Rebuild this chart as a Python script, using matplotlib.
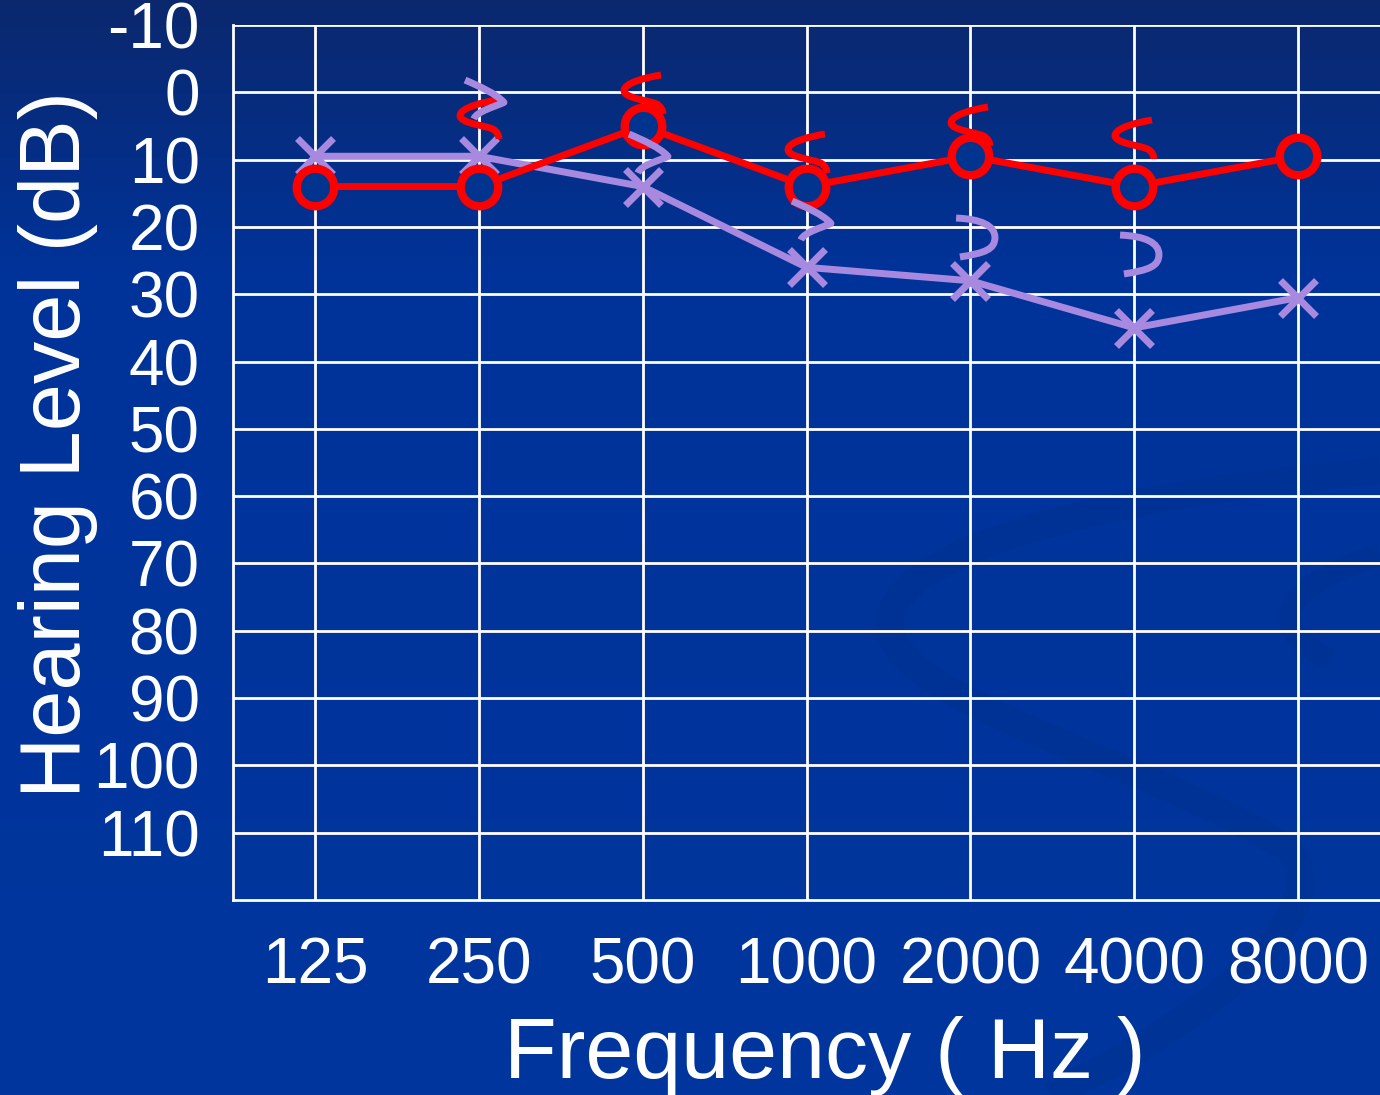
import numpy as np
import matplotlib.pyplot as plt
from matplotlib.path import Path
from matplotlib.markers import MarkerStyle
from matplotlib.colors import LinearSegmentedColormap
import matplotlib.patches as mpatches

plt.rcParams['font.family'] = ['Liberation Sans', 'DejaVu Sans']
plt.rcParams['axes.unicode_minus'] = False

# frequencies (Hz) shown as evenly spaced categories
freqs = ['125', '250', '500', '1000', '2000', '4000', '8000']
y_ticks = [-10, 0, 10, 20, 30, 40, 50, 60, 70, 80, 90, 100, 110]

# air conduction, right ear (red O) and left ear (purple X), dB HL
right_air = [14, 14, 5, 14, 9.5, 14, 9.5]
left_air = [9.5, 9.5, 14, 26, 28, 35, 30.5]

# bone conduction marks (250 - 4000 Hz)
bone_freqs = ['250', '500', '1000', '2000', '4000']
right_bone = [4, 0.3, 9, 5, 7]
left_bone = [1, 9, 19, 21.5, 24]

red = '#ff0000'
purple = '#a889e0'
bg = '#00348f'

fig = plt.figure(figsize=(13.8, 10.95), dpi=100)

# background gradient
bgax = fig.add_axes([0, 0, 1, 1], zorder=-10)
grad = np.linspace(0, 1, 256).reshape(-1, 1)
cmap = LinearSegmentedColormap.from_list('bg', [(0, '#0b286e'), (0.25, '#00339a'), (1, '#00369e')])
bgax.imshow(grad, aspect='auto', cmap=cmap, extent=[0, 1380, 1095, 0])
# faint swirl in the background
swirl = Path([(1380, 470), (1150, 490), (900, 540), (890, 620),
              (880, 700), (1150, 760), (1290, 850),
              (1330, 900), (1250, 1000), (1050, 1095)],
             [Path.MOVETO, Path.CURVE4, Path.CURVE4, Path.CURVE4,
              Path.CURVE4, Path.CURVE4, Path.CURVE4,
              Path.CURVE4, Path.CURVE4, Path.CURVE4])
bgax.add_patch(mpatches.PathPatch(swirl, fill=False, color='#00266e', lw=20, alpha=0.13))
curl = Path([(1380, 555), (1300, 580), (1250, 620), (1330, 660)],
            [Path.MOVETO, Path.CURVE4, Path.CURVE4, Path.CURVE4])
bgax.add_patch(mpatches.PathPatch(curl, fill=False, color='#00266e', lw=16, alpha=0.13))
bgax.set_xlim(0, 1380)
bgax.set_ylim(1095, 0)
bgax.axis('off')

ax = fig.add_axes([233 / 1380, 1 - 900 / 1095, 1 - 233 / 1380, (900 - 25) / 1095])
ax.set_facecolor('none')

x = np.arange(len(freqs))
bx = np.array([freqs.index(f) for f in bone_freqs])

# hand drawn bone conduction symbols
lt_path = Path([(0.9, 1.0), (0.2, 0.9), (-1.0, 0.6), (-1.0, 0.2),
                (-1.0, -0.2), (0.3, -0.3), (0.7, -0.5), (1.0, -0.7), (1.0, -1.0)],
               [Path.MOVETO, Path.CURVE4, Path.CURVE4, Path.CURVE4,
                Path.CURVE4, Path.CURVE4, Path.CURVE4, Path.CURVE3, Path.CURVE3])
gt_path = Path([(-1.0, 1.0), (-0.3, 0.7), (0.6, 0.3), (1.0, -0.15),
                (0.6, -0.35), (-0.4, -0.6), (-0.55, -1.0)],
               [Path.MOVETO, Path.CURVE4, Path.CURVE4, Path.CURVE4,
                Path.CURVE4, Path.CURVE4, Path.CURVE4])
br_path = Path([(-1.0, 1.0), (0.3, 0.95), (1.0, 0.6), (1.0, 0.0),
                (1.0, -0.6), (0.5, -0.8), (-0.8, -1.0)],
               [Path.MOVETO, Path.CURVE4, Path.CURVE4, Path.CURVE4,
                Path.CURVE4, Path.CURVE4, Path.CURVE4])

ax.plot(x, left_air, color=purple, lw=5, marker='x', ms=26, mew=5, zorder=3)
ax.plot(x, right_air, color=red, lw=5, marker='o', ms=27, mew=6,
        markerfacecolor=bg, zorder=4)

ax.plot(bx, right_bone, ls='none', marker=MarkerStyle(lt_path), ms=28,
        mew=5, mec=red, mfc='none', zorder=5)
left_shapes = [gt_path, gt_path, gt_path, br_path, br_path]
for xi, yi, shp in zip(bx, left_bone, left_shapes):
    ax.plot(xi + 0.03, yi, ls='none', marker=MarkerStyle(shp), ms=28,
            mew=5, mec=purple, mfc='none', zorder=5)

ax.set_xlim(-0.5, 6.5)
ax.set_ylim(120, -10)
ax.set_xticks(x)
ax.set_xticklabels(freqs)
ax.set_yticks(y_ticks)
ax.tick_params(length=0, labelsize=46, labelcolor='white')
ax.tick_params(axis='y', pad=24)
ax.tick_params(axis='x', pad=26)
ax.grid(True, color='white', lw=2)
ax.set_axisbelow(True)
for s in ['top', 'right']:
    ax.spines[s].set_visible(False)
for s in ['left', 'bottom']:
    ax.spines[s].set_color('white')
    ax.spines[s].set_linewidth(2)

fig.text(58 / 1380, 1 - 445 / 1095, 'Hearing Level (dB)', rotation=90,
         ha='center', va='center', fontsize=61, color='white')
fig.text(825 / 1380, 1 - 1078 / 1095, 'Frequency ( Hz )', ha='center',
         va='baseline', fontsize=62, color='white')

fig.savefig('out.png', dpi=100)
